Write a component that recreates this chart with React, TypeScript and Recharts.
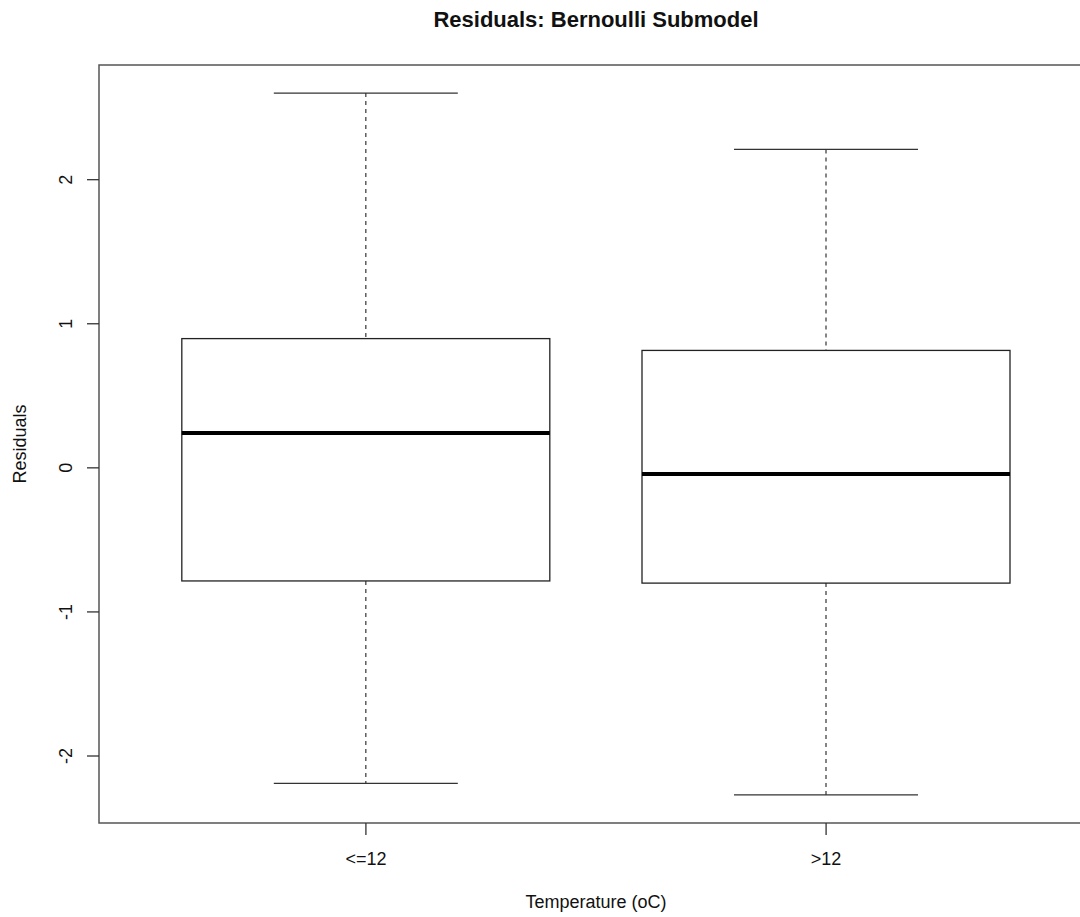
import React from 'react';
import { ComposedChart, Bar, XAxis, YAxis, ReferenceArea } from 'recharts';

const categories = ['<=12', '>12'];
const positions = [1, 2];
const whiskerLow = [-2.19, -2.27];
const q1 = [-0.785, -0.8];
const median = [0.242, -0.043];
const q3 = [0.897, 0.815];
const whiskerHigh = [2.601, 2.21];

const yTicks = [-2, -1, 0, 1, 2];
const xDomain: [number, number] = [0.42, 2.58];
const yDomain: [number, number] = [-2.465, 2.796];

const data = categories.map((c, i) => ({
  name: c,
  pos: positions[i],
  low: whiskerLow[i],
  q1: q1[i],
  med: median[i],
  q3: q3[i],
  high: whiskerHigh[i],
}));

const FONT = "'Liberation Sans', Arial, Helvetica, sans-serif";

const BoxShape = (props: any) => {
  const { x, y, width, height, payload } = props;
  if (payload == null) return null;
  const top = Math.min(y, y + height);
  const bottom = Math.max(y, y + height);
  const lo = payload.low;
  const hi = payload.high;
  const toPx = (v: number) => bottom - ((v - lo) / (hi - lo)) * (bottom - top);
  const cx = x + width / 2;
  const capHalf = width / 4;
  const pQ1 = toPx(payload.q1);
  const pQ3 = toPx(payload.q3);
  const pMed = toPx(payload.med);
  return (
    <g>
      <line x1={cx} x2={cx} y1={top} y2={pQ3} stroke="#444" strokeWidth={1.3} strokeDasharray="4 4" />
      <line x1={cx} x2={cx} y1={pQ1} y2={bottom} stroke="#444" strokeWidth={1.3} strokeDasharray="4 4" />
      <line x1={cx - capHalf} x2={cx + capHalf} y1={top} y2={top} stroke="#333" strokeWidth={1.3} />
      <line x1={cx - capHalf} x2={cx + capHalf} y1={bottom} y2={bottom} stroke="#333" strokeWidth={1.3} />
      <rect x={x} y={pQ3} width={width} height={pQ1 - pQ3} fill="none" stroke="#222" strokeWidth={1.3} />
      <line x1={x} x2={x + width} y1={pMed} y2={pMed} stroke="#000" strokeWidth={4} />
    </g>
  );
};

const YTick = (props: any) => {
  const { y, payload } = props;
  const cx = 66;
  return (
    <text
      x={cx}
      y={y}
      transform={`rotate(-90, ${cx}, ${y})`}
      textAnchor="middle"
      dy="0.36em"
      fontSize={18}
      fontFamily={FONT}
      fill="#111"
    >
      {payload.value}
    </text>
  );
};

const YLabel = (props: any) => {
  const vb = props.viewBox || { x: 0, y: 65, width: 99, height: 758 };
  const cx = vb.x + 20;
  const cy = vb.y + vb.height / 2;
  return (
    <text
      x={cx}
      y={cy}
      transform={`rotate(-90, ${cx}, ${cy})`}
      textAnchor="middle"
      dy="0.36em"
      fontSize={18}
      fontFamily={FONT}
      fill="#111"
    >
      Residuals
    </text>
  );
};

const XLabel = (props: any) => {
  const vb = props.viewBox || { x: 99, y: 823, width: 994, height: 94 };
  return (
    <text
      x={vb.x + vb.width / 2}
      y={vb.y + 85}
      textAnchor="middle"
      fontSize={18}
      fontFamily={FONT}
      fill="#111"
    >
      Temperature (oC)
    </text>
  );
};

export default function App() {
  return (
    <div
      style={{
        position: 'fixed',
        left: 0,
        top: 0,
        width: 1080,
        height: 917,
        overflow: 'hidden',
        background: '#fff',
      }}
    >
      <div
        style={{
          position: 'absolute',
          top: 9,
          left: 99,
          width: 994,
          textAlign: 'center',
          fontFamily: FONT,
          fontWeight: 'bold',
          fontSize: 22,
          lineHeight: 1,
          color: '#111',
        }}
      >
        Residuals: Bernoulli Submodel
      </div>
      <ComposedChart
        width={1100}
        height={917}
        data={data}
        margin={{ top: 65, right: 7, bottom: 0, left: 0 }}
      >
        <XAxis
          dataKey="pos"
          type="number"
          domain={xDomain}
          ticks={positions}
          tickFormatter={(v: number) => categories[positions.indexOf(v)] ?? ''}
          height={94}
          axisLine={false}
          tickSize={12}
          tickMargin={17}
          tickLine={{ stroke: '#333', strokeWidth: 1.3 }}
          tick={{ fontSize: 18, fontFamily: FONT, fill: '#111' }}
          label={<XLabel />}
          allowDataOverflow
        />
        <YAxis
          type="number"
          domain={yDomain}
          ticks={yTicks}
          width={99}
          axisLine={false}
          tickSize={12}
          tickLine={{ stroke: '#333', strokeWidth: 1.3 }}
          tick={<YTick />}
          label={<YLabel />}
          allowDataOverflow
        />
        <ReferenceArea
          x1={xDomain[0]}
          x2={xDomain[1]}
          y1={yDomain[0]}
          y2={yDomain[1]}
          fill="none"
          fillOpacity={0}
          stroke="#555"
          strokeWidth={1.5}
          ifOverflow="visible"
        />
        <Bar
          dataKey={(d: any) => [d.low, d.high]}
          barSize={368}
          shape={<BoxShape />}
          isAnimationActive={false}
        />
      </ComposedChart>
    </div>
  );
}
